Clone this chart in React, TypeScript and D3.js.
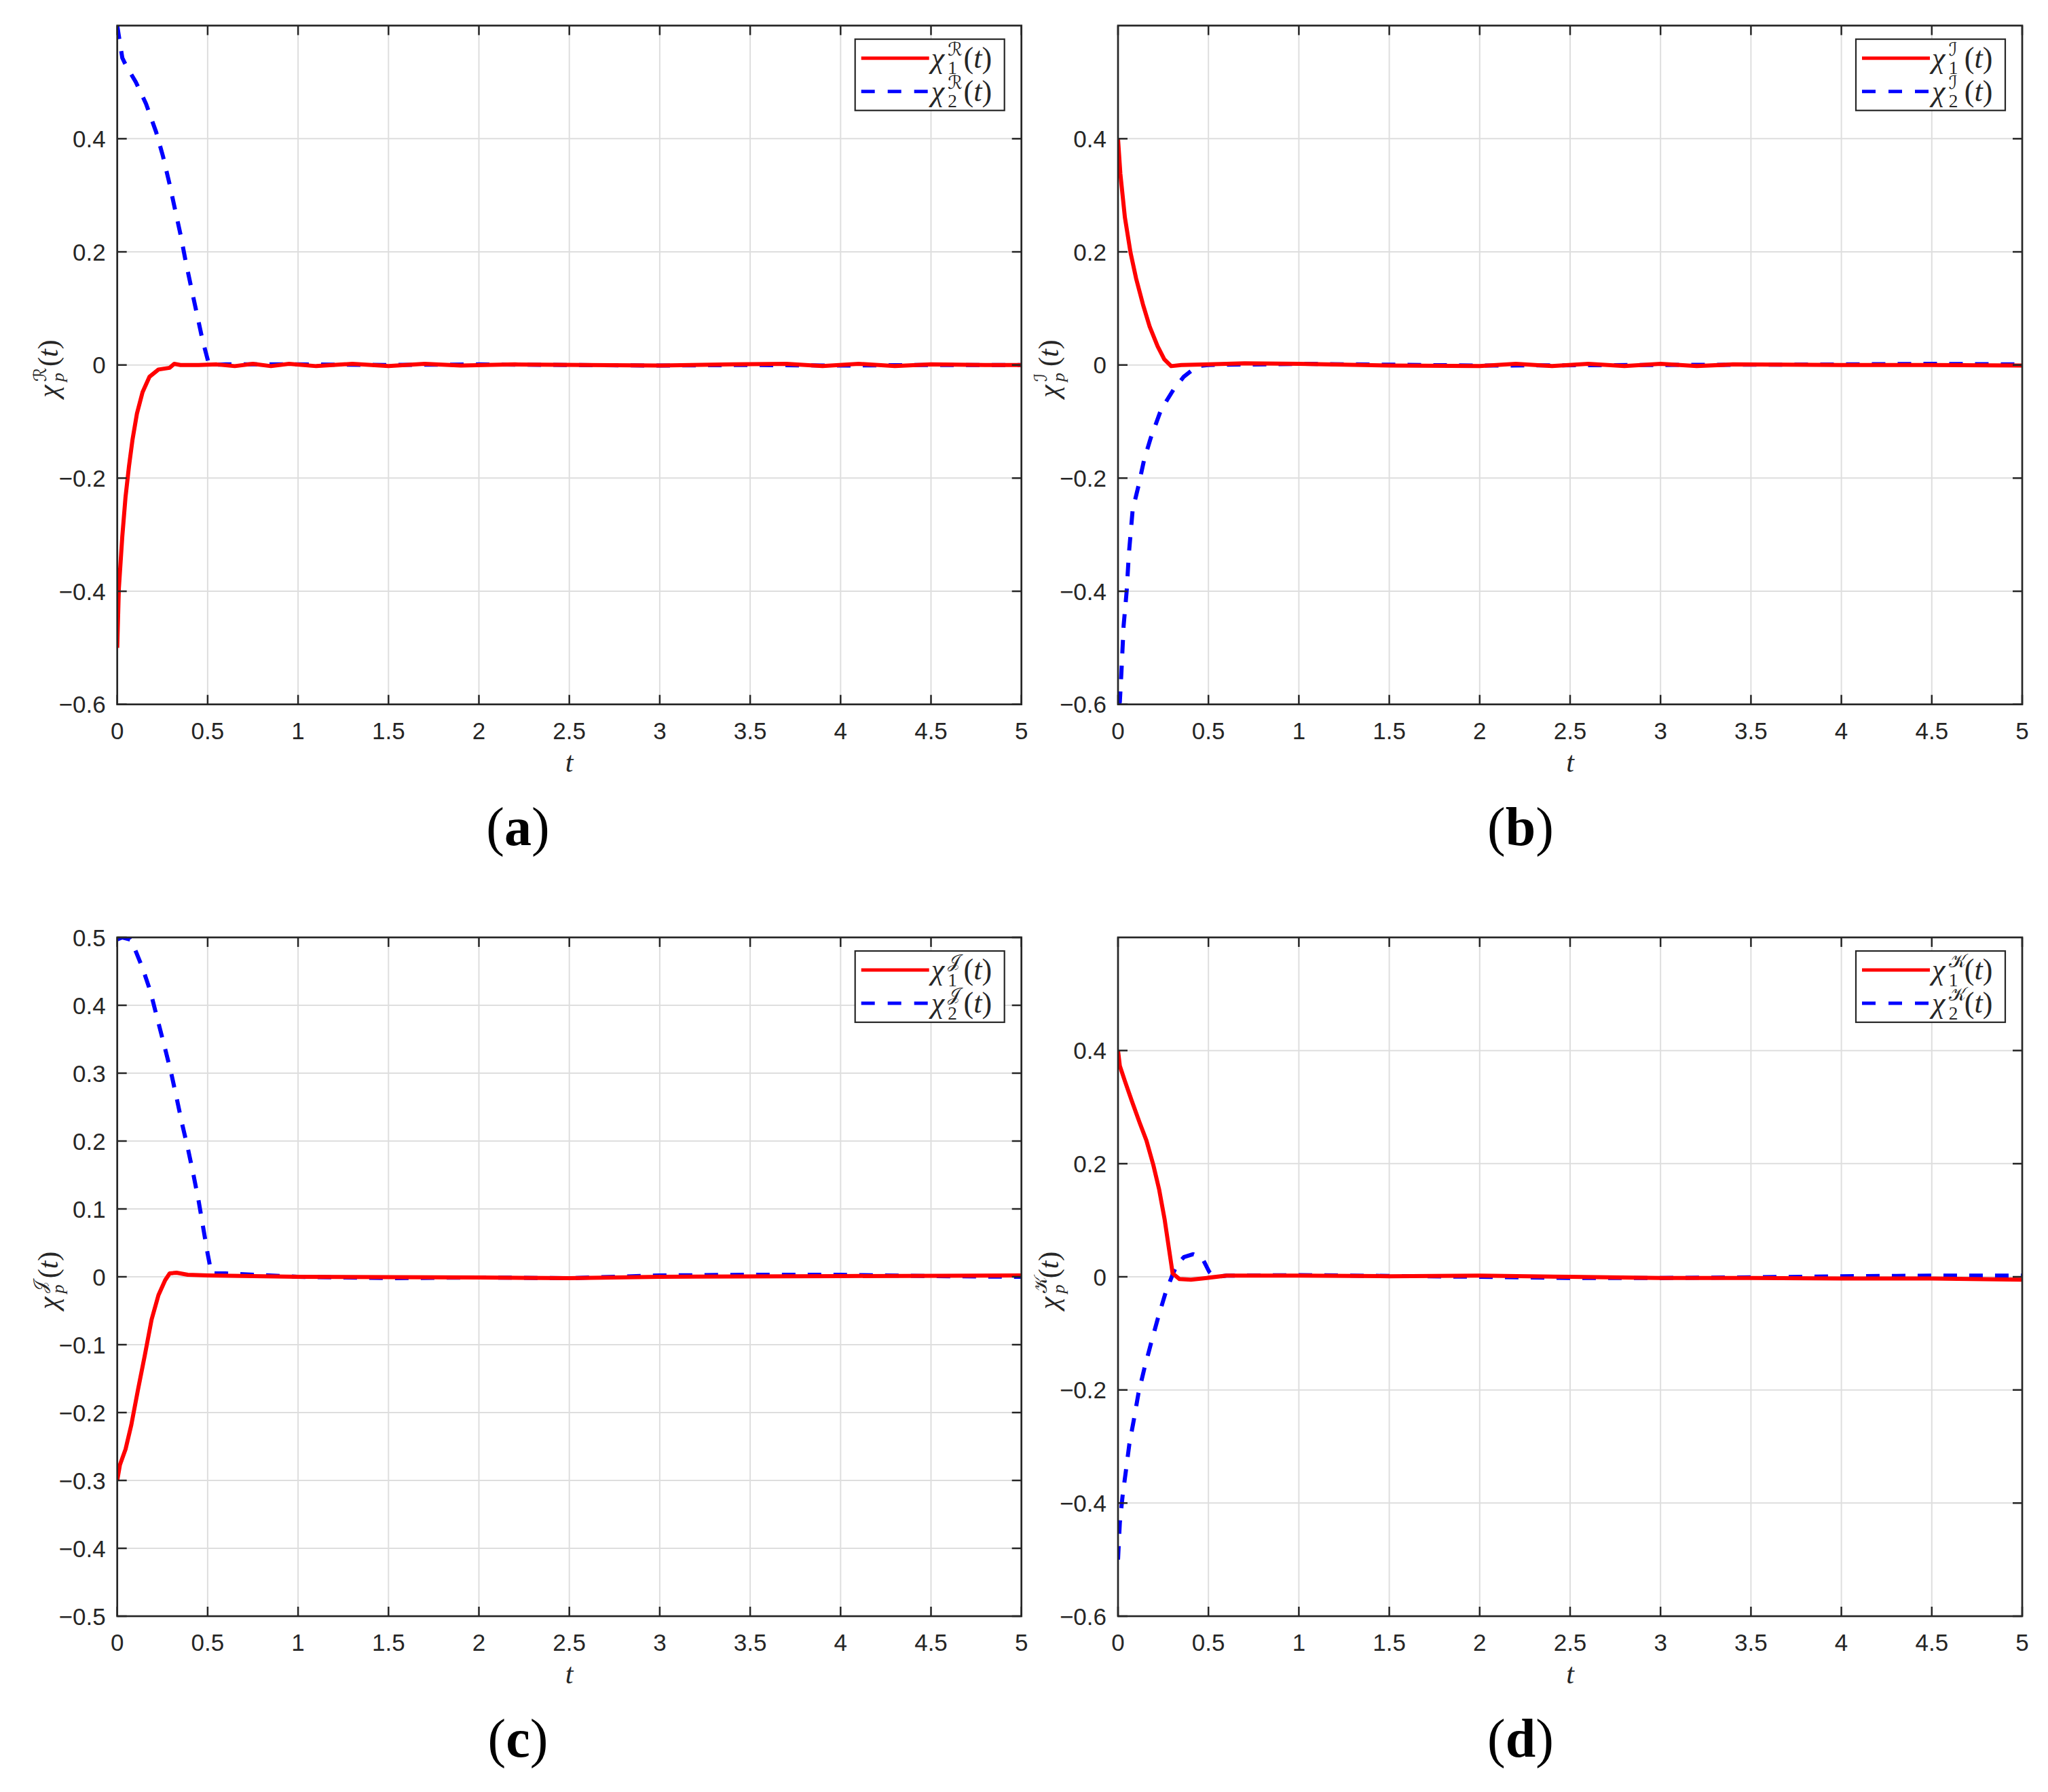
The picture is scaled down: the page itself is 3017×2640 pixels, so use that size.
import * as d3 from 'd3';

type Pt = [number, number];

const xTicks = [0, 0.5, 1, 1.5, 2, 2.5, 3, 3.5, 4, 4.5, 5];
const yTicksSix = [-0.6, -0.4, -0.2, 0, 0.2, 0.4];
const yTicksFive = [-0.5, -0.4, -0.3, -0.2, -0.1, 0, 0.1, 0.2, 0.3, 0.4, 0.5];

// (a) real part
const aRed: Pt[] = [
  [0, -0.5], [0.009, -0.395], [0.028, -0.303], [0.046, -0.233], [0.065, -0.179], [0.084, -0.133],
  [0.109, -0.086], [0.14, -0.048], [0.178, -0.021], [0.228, -0.008], [0.29, -0.005], [0.315, 0.002],
  [0.35, 0], [0.45, 0], [0.55, 0.001], [0.65, -0.002], [0.75, 0.002], [0.85, -0.002], [0.95, 0.002],
  [1.1, -0.002], [1.3, 0.002], [1.5, -0.002], [1.7, 0.002], [1.9, -0.001], [2.2, 0.001], [2.6, 0],
  [3, -0.001], [3.4, 0.001], [3.7, 0.002], [3.9, -0.002], [4.1, 0.002], [4.3, -0.002], [4.5, 0.001],
  [4.8, 0], [5, 0],
];
const aBlue: Pt[] = [
  [0, 0.6], [0.028, 0.543], [0.046, 0.531], [0.103, 0.5], [0.159, 0.462], [0.215, 0.412],
  [0.253, 0.369], [0.29, 0.319], [0.321, 0.273], [0.353, 0.226], [0.378, 0.184], [0.409, 0.137],
  [0.44, 0.091], [0.471, 0.045], [0.503, 0.006], [0.52, 0], [0.6, 0.001], [1, 0.001], [1.5, 0],
  [2, 0.001], [2.5, 0], [3, -0.001], [3.5, 0], [4, -0.001], [4.5, 0], [5, 0],
];

// (b) first imaginary part
const bRed: Pt[] = [
  [0, 0.4], [0.013, 0.338], [0.038, 0.261], [0.069, 0.199], [0.1, 0.153], [0.138, 0.107],
  [0.175, 0.068], [0.219, 0.033], [0.256, 0.01], [0.294, -0.002], [0.35, 0], [0.5, 0.001],
  [0.7, 0.003], [1, 0.002], [1.5, -0.001], [2, -0.002], [2.2, 0.002], [2.4, -0.002], [2.6, 0.002],
  [2.8, -0.002], [3, 0.002], [3.2, -0.002], [3.4, 0.001], [4, 0], [4.5, 0], [5, -0.001],
];
const bBlue: Pt[] = [
  [0, -0.6], [0.01, -0.596], [0.019, -0.542], [0.031, -0.461], [0.048, -0.399], [0.06, -0.334],
  [0.081, -0.256], [0.113, -0.214], [0.144, -0.168], [0.181, -0.129], [0.238, -0.079],
  [0.306, -0.044], [0.363, -0.021], [0.438, -0.002], [0.5, 0], [1, 0.002], [2, -0.001], [3, 0],
  [4, 0.001], [4.5, 0.002], [5, 0.001],
];

// (c) second imaginary part
const cRed: Pt[] = [
  [0, -0.3], [0.015, -0.277], [0.046, -0.254], [0.078, -0.218], [0.115, -0.166], [0.153, -0.115],
  [0.19, -0.063], [0.228, -0.027], [0.265, -0.005], [0.29, 0.005], [0.328, 0.006], [0.39, 0.003],
  [0.5, 0.002], [1, 0], [2, -0.001], [2.5, -0.002], [3, 0], [4, 0.001], [5, 0.002],
];
const cBlue: Pt[] = [
  [0, 0.497], [0.028, 0.5], [0.071, 0.497], [0.096, 0.484], [0.14, 0.455], [0.184, 0.42],
  [0.221, 0.381], [0.259, 0.342], [0.296, 0.303], [0.328, 0.264], [0.359, 0.225], [0.39, 0.19],
  [0.421, 0.151], [0.45, 0.112], [0.475, 0.073], [0.5, 0.034], [0.521, 0.005], [0.6, 0.005],
  [1, 0], [1.5, -0.002], [2, -0.001], [2.5, -0.002], [3, 0.002], [3.5, 0.003], [4, 0.003],
  [4.5, 0.001], [5, 0],
];

// (d) third imaginary part
const dRed: Pt[] = [
  [0, 0.4], [0.01, 0.373], [0.038, 0.346], [0.076, 0.311], [0.12, 0.272], [0.157, 0.241],
  [0.195, 0.198], [0.227, 0.155], [0.258, 0.101], [0.283, 0.047], [0.302, 0.006], [0.34, -0.004],
  [0.403, -0.005], [0.491, -0.002], [0.6, 0.002], [1, 0.002], [1.5, 0.001], [2, 0.002], [2.5, 0],
  [3, -0.002], [3.5, -0.002], [4, -0.003], [4.5, -0.003], [5, -0.005],
];
const dBlue: Pt[] = [
  [0, -0.5], [0.01, -0.435], [0.025, -0.388], [0.044, -0.342], [0.063, -0.295], [0.088, -0.252],
  [0.113, -0.206], [0.145, -0.163], [0.183, -0.117], [0.22, -0.074], [0.264, -0.027],
  [0.302, 0.004], [0.327, 0.022], [0.365, 0.035], [0.416, 0.04], [0.466, 0.033], [0.504, 0.009],
  [0.52, 0.004], [0.55, 0], [0.6, 0.002], [1, 0.003], [2, 0], [2.5, -0.002], [3, -0.002],
  [3.5, -0.001], [4, 0.001], [4.5, 0.002], [5, 0.002],
];

const supLetters = ['ℛ', 'ℐ', '𝒥', '𝒦'];
const tags = ['a', 'b', 'c', 'd'];

const PW = 1332;
const PH = 1000;
const INK = '#262626';
const GRID = '#dedede';
const TICK_FONT = '"Liberation Sans", Arial, Helvetica, sans-serif';
const SERIF = '"Liberation Serif", "Times New Roman", serif';
const SCRIPT = '"DejaVu Serif", "DejaVu Sans", serif';

const panels = [
  { left: 172.7, top: 37.7, domain: [-0.6, 0.6], ticks: yTicksSix, red: aRed, blue: aBlue },
  { left: 1647, top: 37.7, domain: [-0.6, 0.6], ticks: yTicksSix, red: bRed, blue: bBlue },
  { left: 172.7, top: 1381, domain: [-0.5, 0.5], ticks: yTicksFive, red: cRed, blue: cBlue },
  { left: 1647, top: 1381, domain: [-0.6, 0.6], ticks: yTicksSix, red: dRed, blue: dBlue },
];
const tagPos = [
  [763, 1245], [2240, 1245], [763, 2588], [2240, 2588],
];

const fmt = (v: number) => (v === 0 ? '0' : d3.format('~g')(v).replace('-', '\u2212'));

// chi with stacked sub/superscript, followed by (t) — one text element
function ChiLabel({ x, y, sub, sup, size }: { x: number; y: number; sub: string; sup: string; size: number }) {
  const s = size * 0.62;
  const chiW = size * 0.56;
  const stackW = s * 0.85;
  return (
    <text x={x} y={y} fontFamily={SERIF} fontSize={size} fill={INK}>
      <tspan fontStyle="italic">χ</tspan>
      <tspan x={x + chiW} y={y + size * 0.22} fontSize={s} fontStyle={sub === 'p' ? 'italic' : 'normal'}>{sub}</tspan>
      <tspan x={x + chiW} y={y - size * 0.4} fontSize={s} fontFamily={SCRIPT}>{sup}</tspan>
      <tspan x={x + chiW + stackW} y={y}>(</tspan>
      <tspan fontStyle="italic">t</tspan>
      <tspan>)</tspan>
    </text>
  );
}

function Panel({ idx }: { idx: number }) {
  const p = panels[idx];
  const x = d3.scaleLinear().domain([0, 5]).range([p.left, p.left + PW]);
  const y = d3.scaleLinear().domain(p.domain).range([p.top + PH, p.top]);
  const line = d3.line<Pt>().x((d) => x(d[0])).y((d) => y(d[1]));
  const clipId = `clip-${idx}`;
  const bottom = p.top + PH;
  const right = p.left + PW;
  const lgRight = right - 25;
  const lgLeft = lgRight - 220;
  const lgTop = p.top + 20;
  const sup = supLetters[idx];
  return (
    <g>
      <defs>
        <clipPath id={clipId}>
          <rect x={p.left} y={p.top} width={PW} height={PH} />
        </clipPath>
      </defs>
      <rect x={p.left} y={p.top} width={PW} height={PH} fill="#fff" />
      {/* grid */}
      {xTicks.slice(1, -1).map((t) => (
        <line key={`gx${t}`} x1={x(t)} x2={x(t)} y1={p.top} y2={bottom} stroke={GRID} strokeWidth={2} />
      ))}
      {p.ticks.filter((t) => t > p.domain[0] && t < p.domain[1]).map((t) => (
        <line key={`gy${t}`} x1={p.left} x2={right} y1={y(t)} y2={y(t)} stroke={GRID} strokeWidth={2} />
      ))}
      {/* data */}
      <g clipPath={`url(#${clipId})`} fill="none" strokeLinejoin="round">
        <path d={line(p.blue) ?? ''} stroke="#0000ff" strokeWidth={6} strokeDasharray="20 18" />
        <path d={line(p.red) ?? ''} stroke="#ff0000" strokeWidth={6} />
      </g>
      {/* ticks on all four sides */}
      {xTicks.map((t) => (
        <g key={`tx${t}`} stroke={INK} strokeWidth={2.5}>
          <line x1={x(t)} x2={x(t)} y1={bottom} y2={bottom - 14} />
          <line x1={x(t)} x2={x(t)} y1={p.top} y2={p.top + 14} />
        </g>
      ))}
      {p.ticks.map((t) => (
        <g key={`ty${t}`} stroke={INK} strokeWidth={2.5}>
          <line x1={p.left} x2={p.left + 14} y1={y(t)} y2={y(t)} />
          <line x1={right} x2={right - 14} y1={y(t)} y2={y(t)} />
        </g>
      ))}
      <rect x={p.left} y={p.top} width={PW} height={PH} fill="none" stroke={INK} strokeWidth={2.7} />
      {/* tick labels */}
      {xTicks.map((t) => (
        <text key={`lx${t}`} x={x(t)} y={bottom + 51} textAnchor="middle" fontFamily={TICK_FONT} fontSize={35} fill={INK}>
          {fmt(t)}
        </text>
      ))}
      {p.ticks.map((t) => (
        <text key={`ly${t}`} x={p.left - 17} y={y(t)} dy="0.36em" textAnchor="end" fontFamily={TICK_FONT} fontSize={35} fill={INK}>
          {fmt(t)}
        </text>
      ))}
      {/* axis labels */}
      <text x={(p.left + right) / 2} y={bottom + 99} textAnchor="middle" fontFamily={SERIF} fontStyle="italic" fontSize={42} fill={INK}>
        t
      </text>
      <g transform={`translate(${p.left - 100},${p.top + PH / 2}) rotate(-90)`}>
        <ChiLabel x={-48} y={12} sub="p" sup={sup} size={42} />
      </g>
      {/* legend */}
      <rect x={lgLeft} y={lgTop} width={220} height={105} fill="#fff" stroke={INK} strokeWidth={2.2} />
      <line x1={lgLeft + 9} x2={lgLeft + 109} y1={lgTop + 28} y2={lgTop + 28} stroke="#ff0000" strokeWidth={5} />
      <line x1={lgLeft + 9} x2={lgLeft + 109} y1={lgTop + 77} y2={lgTop + 77} stroke="#0000ff" strokeWidth={5} strokeDasharray="20 19" />
      <ChiLabel x={lgLeft + 112} y={lgTop + 42} sub="1" sup={sup} size={44} />
      <ChiLabel x={lgLeft + 112} y={lgTop + 91} sub="2" sup={sup} size={44} />
      {/* subfigure tag */}
      <text x={tagPos[idx][0]} y={tagPos[idx][1]} textAnchor="middle" fontFamily={SERIF} fontSize={80} fill="#000">
        (<tspan fontWeight="bold">{tags[idx]}</tspan>)
      </text>
    </g>
  );
}

export default function App() {
  return (
    <svg width={3017} height={2640} style={{ position: 'absolute', left: 0, top: 0, background: '#fff' }}>
      <rect width={3017} height={2640} fill="#fff" />
      {panels.map((_, i) => (
        <Panel key={i} idx={i} />
      ))}
    </svg>
  );
}
